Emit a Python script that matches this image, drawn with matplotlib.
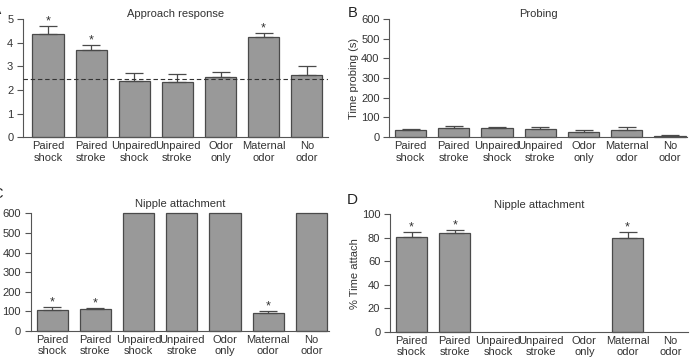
import numpy as np
import matplotlib
matplotlib.use("Agg")
from matplotlib import pyplot as plt

plt.rcParams['font.family'] = ['Liberation Sans', 'DejaVu Sans']
plt.rcParams['font.size'] = 8

# ---- data ----
groups = ['Paired\nshock', 'Paired\nstroke', 'Unpaired\nshock', 'Unpaired\nstroke',
          'Odor\nonly', 'Maternal\nodor', 'No\nodor']

approach_mean = [4.37, 3.70, 2.36, 2.35, 2.53, 4.24, 2.62]
approach_err = [0.32, 0.20, 0.34, 0.31, 0.21, 0.15, 0.38]
approach_sig = [True, True, False, False, False, True, False]
chance_level = 2.47

probing_mean = [34, 46, 47, 39, 25, 37, 7]
probing_err = [5, 12, 6, 14, 12, 16, 3]

latency_mean = [107, 111, 600, 600, 600, 92, 600]
latency_err = [17, 5, 0, 0, 0, 8, 0]
latency_sig = [True, True, False, False, False, True, False]

attach_mean = [81, 84, np.nan, np.nan, np.nan, 79.5, np.nan]
attach_err = [4, 2.7, np.nan, np.nan, np.nan, 5.5, np.nan]
attach_sig = [True, True, False, False, False, True, False]

BAR_COLOR = '#999999'
EDGE_COLOR = '#4a4a4a'
AXIS_COLOR = '#555555'
TEXT_COLOR = '#333333'

fig = plt.figure(figsize=(6.93, 3.6), dpi=100)

# axes rectangles in figure fraction (left, bottom, width, height)
ax_a = fig.add_axes([0.0332, 0.619, 0.440, 0.328])
ax_b = fig.add_axes([0.5618, 0.619, 0.430, 0.328])
ax_c = fig.add_axes([0.0443, 0.0806, 0.430, 0.327])
ax_d = fig.add_axes([0.5628, 0.0778, 0.430, 0.327])


def style_axis(ax, ymax, yticks, xlim):
    x = np.arange(len(groups))
    ax.set_xlim(*xlim)
    ax.set_ylim(0, ymax)
    ax.set_yticks(yticks)
    ax.set_xticks(x)
    ax.set_xticklabels(groups, linespacing=1.15)
    for s in ['top', 'right']:
        ax.spines[s].set_visible(False)
    for s in ['left', 'bottom']:
        ax.spines[s].set_color(AXIS_COLOR)
        ax.spines[s].set_linewidth(0.8)
    ax.tick_params(axis='y', direction='out', length=4.5, width=0.8, color=AXIS_COLOR,
                   labelsize=8, pad=2.5, labelcolor=TEXT_COLOR)
    ax.tick_params(axis='x', length=0, labelsize=8, pad=3, labelcolor=TEXT_COLOR)


def draw_bars(ax, mean, err, sig=None, star_pad=0.0):
    x = np.arange(len(groups))
    ax.bar(x, mean, width=0.72, color=BAR_COLOR, edgecolor=EDGE_COLOR,
           linewidth=0.9, clip_on=False, zorder=2)
    m = np.asarray(mean, dtype=float)
    e = np.asarray(err, dtype=float)
    for xi, mi, ei in zip(x, m, e):
        if np.isnan(mi) or np.isnan(ei) or ei <= 0:
            continue
        ax.errorbar(xi, mi, yerr=[[0], [ei]], fmt='none', ecolor=EDGE_COLOR,
                    elinewidth=0.9, capsize=6.5, capthick=0.9, zorder=3)
    if sig is not None:
        for xi, mi, ei, s in zip(x, m, e, sig):
            if s:
                ax.text(xi, mi + ei + star_pad, '*', ha='center', va='bottom',
                        fontsize=9, color=TEXT_COLOR)


# --- A: approach response ---
style_axis(ax_a, 5, range(0, 6), (-0.58, 6.49))
draw_bars(ax_a, approach_mean, approach_err, approach_sig, star_pad=-0.05)
ax_a.axhline(chance_level, color='#333333', linestyle=(0, (4, 2.5)), linewidth=0.8, zorder=4)
ax_a.set_ylabel('Choices toward odor', fontsize=8, labelpad=3, color=TEXT_COLOR)
ax_a.set_title('Approach response', fontsize=8, pad=1.5, color=TEXT_COLOR)
ax_a.text(-0.101, 1.017, 'A', transform=ax_a.transAxes, fontsize=10,
          ha='left', va='bottom', color='#222222')

# --- B: probing ---
style_axis(ax_b, 600, range(0, 601, 100), (-0.49, 6.4))
draw_bars(ax_b, probing_mean, probing_err)
ax_b.set_ylabel('Time probing (s)', fontsize=8, labelpad=1.5, color=TEXT_COLOR)
ax_b.set_title('Probing', fontsize=8, pad=1.5, color=TEXT_COLOR)
ax_b.text(-0.141, 0.995, 'B', transform=ax_b.transAxes, fontsize=10.5,
          ha='left', va='bottom', color='#222222')

# --- C: nipple attachment latency ---
style_axis(ax_c, 600, range(0, 601, 100), (-0.5, 6.4))
draw_bars(ax_c, latency_mean, latency_err, latency_sig, star_pad=-8)
ax_c.set_title('Nipple attachment', fontsize=8, pad=4.5, color=TEXT_COLOR)
ax_c.text(-0.13, 1.10, 'C', transform=ax_c.transAxes, fontsize=10.5,
          ha='left', va='bottom', color='#222222')

# --- D: % time attached ---
style_axis(ax_d, 100, range(0, 101, 20), (-0.5, 6.4))
draw_bars(ax_d, attach_mean, attach_err, attach_sig, star_pad=-1)
ax_d.set_ylabel('% Time attach', fontsize=8, labelpad=1.5, color=TEXT_COLOR)
ax_d.set_title('Nipple attachment', fontsize=8, pad=4.5, color=TEXT_COLOR)
ax_d.text(-0.145, 1.06, 'D', transform=ax_d.transAxes, fontsize=11,
          ha='left', va='bottom', color='#222222')

fig.savefig('out.png', dpi=100)
